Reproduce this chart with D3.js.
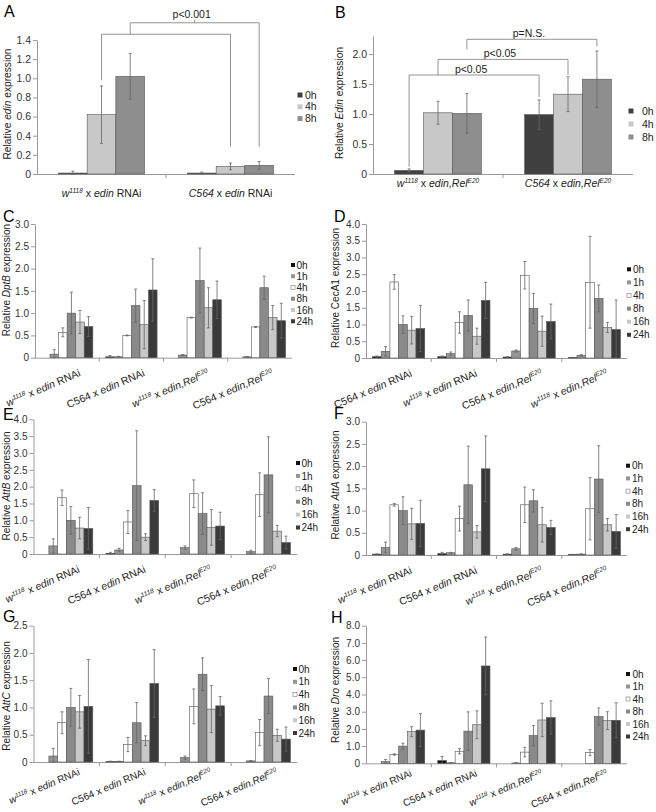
<!DOCTYPE html>
<html>
<head>
<meta charset="utf-8">
<script src="https://cdn.jsdelivr.net/npm/d3@7"></script>
<style>
  body { margin: 0; background: #fff; }
  text { white-space: pre; }
</style>
</head>
<body>
<script>
// categories
var catsA = ["*w*^1118^ x *edin* RNAi", "*C564* x *edin* RNAi"];
var catsB = ["*w*^1118^ x *edin,Rel*^E20^", "*C564* x *edin,Rel*^E20^"];
var cats4 = ["*w*^1118^ x *edin* RNAi", "C564 x *edin* RNAi", "*w*^1118^ x *edin,Rel*^E20^", "C564 x *edin,Rel*^E20^"];
var catsD = ["C564 x *edin* RNAi", "*w*^1118^ x *edin* RNAi", "C564 x *edin,Rel*^E20^", "*w*^1118^ x *edin,Rel*^E20^"];

// series
var hoursAB = ["0h", "4h", "8h"];
var colorsAB = ["#404040", "#c8c8c8", "#8e8e8e"];
var hours6 = ["0h", "1h", "4h", "8h", "16h", "24h"];
var colors6 = ["#111111", "#959595", "#ffffff", "#8a8a8a", "#c8c8c8", "#3a3a3a"];

// A: edin
var edinMean = [[0.01, 0.62, 1.02], [0.01, 0.08, 0.09]];
var edinErr  = [[0.02, 0.30, 0.24], [0.01, 0.035, 0.04]];
// B: Edin
var EdinMean = [[0.06, 1.02, 1.01], [0.99, 1.33, 1.58]];
var EdinErr  = [[0.025, 0.19, 0.33], [0.245, 0.29, 0.47]];

// C: DptB
var dptbMean = [[0, 0.08, 0.57, 1.00, 0.80, 0.70], [0.02, 0.02, 0.50, 1.17, 0.74, 1.52], [0, 0.06, 0.90, 1.73, 1.12, 1.30], [0, 0.02, 0.69, 1.57, 0.90, 0.83]];
var dptbErr  = [[0, 0.10, 0.10, 0.47, 0.26, 0.22], [0.03, 0.01, 0.01, 0.37, 0.54, 0.70], [0, 0.01, 0.01, 0.73, 0.45, 0.42], [0, 0.005, 0.01, 0.26, 0.27, 0.39]];
// D: CecA1
var cecMean = [[0.04, 0.20, 2.27, 1.00, 0.83, 0.88], [0.04, 0.13, 1.06, 1.27, 0.65, 1.72], [0.03, 0.21, 2.47, 1.48, 0.80, 1.09], [0.01, 0.08, 2.26, 1.78, 0.91, 0.85]];
var cecErr  = [[0.02, 0.14, 0.22, 0.26, 0.41, 0.69], [0.02, 0.05, 0.32, 0.46, 0.24, 0.54], [0.005, 0.03, 0.41, 0.45, 0.45, 0.52], [0.01, 0.02, 1.37, 0.40, 0.15, 0.88]];
// E: AttB
var attbMean = [[0, 0.24, 1.67, 1.00, 0.77, 0.76], [0.02, 0.12, 0.95, 2.03, 0.50, 1.59], [0, 0.19, 1.79, 1.20, 0.79, 0.83], [0, 0.07, 1.76, 2.35, 0.68, 0.34]];
var attbErr  = [[0, 0.21, 0.23, 0.41, 0.32, 0.62], [0.03, 0.05, 0.34, 1.63, 0.10, 0.32], [0, 0.05, 0.41, 0.62, 0.53, 0.41], [0, 0.04, 0.65, 1.13, 0.17, 0.19]];
// F: AttA
var attaMean = [[0.02, 0.17, 1.13, 1.00, 0.70, 0.71], [0.03, 0.05, 0.82, 1.58, 0.52, 1.94], [0.02, 0.14, 1.13, 1.22, 0.68, 0.62], [0.01, 0.02, 1.04, 1.71, 0.68, 0.53]];
var attaErr  = [[0.005, 0.12, 0.03, 0.31, 0.35, 0.52], [0.03, 0.01, 0.28, 0.87, 0.14, 0.74], [0.005, 0.03, 0.40, 0.25, 0.39, 0.16], [0.005, 0.005, 0.70, 0.75, 0.14, 0.38]];
// G: AttC
var attcMean = [[0, 0.11, 0.72, 1.00, 0.92, 1.02], [0.01, 0.01, 0.32, 0.72, 0.39, 1.44], [0, 0.08, 1.02, 1.61, 0.97, 1.03], [0, 0.02, 0.54, 1.21, 0.49, 0.42]];
var attcErr  = [[0, 0.14, 0.20, 0.35, 0.30, 0.86], [0.005, 0.005, 0.13, 0.37, 0.09, 0.62], [0, 0.03, 0.32, 0.30, 0.43, 0.17], [0, 0.005, 0.24, 0.32, 0.11, 0.22]];
// H: Dro
var droMean = [[0, 0.10, 0.51, 1.00, 1.84, 1.93], [0.16, 0.03, 0.70, 1.87, 2.24, 5.66], [0, 0.02, 0.65, 1.61, 2.52, 2.66], [0, 0, 0.62, 2.72, 2.48, 2.50]];
var droErr  = [[0, 0.12, 0.04, 0.17, 0.29, 0.96], [0.24, 0.01, 0.15, 1.12, 0.81, 1.68], [0, 0.01, 0.28, 0.58, 0.97, 0.97], [0, 0, 0.18, 0.50, 0.52, 1.02]];

// significance brackets (series index pairs, levels in data units)
var bracketsA = [
  {from: [0, 1], to: [1, 1], level: 1.46, dropFrom: 0.98, dropTo: 0.285},
  {from: [0, 2], to: [1, 2], level: 1.58, dropFrom: 1.46, dropTo: 0.285, label: "p<0.001", tick: true}
];
var bracketsB = [
  {from: [0, 0], to: [1, 0], level: 1.65, dropFrom: 0.12, dropTo: 1.28, label: "p<0.05"},
  {from: [0, 1], to: [1, 1], level: 1.91, dropFrom: 1.65, dropTo: 1.65, label: "p<0.05"},
  {from: [0, 2], to: [1, 2], level: 2.245, dropFrom: 2.08, dropTo: 2.13, label: "p=N.S."}
];

var FONT = "'Liberation Sans', Arial, sans-serif";
var AX = "#9a9a9a";

var svg = d3.select("body").append("svg")
  .attr("width", 656)
  .attr("height", 812)
  .attr("font-family", FONT);

// *italic* and ^superscript^ markup into tspans
function rich(t, s, fs) {
  var parts = s.split(/(\*[^*]+\*|\^[^^]+\^)/).filter(function (d) { return d.length; });
  var up = 0;
  parts.forEach(function (part) {
    var ts = t.append("tspan");
    if (part[0] === "^") {
      ts.text(part.slice(1, -1)).attr("font-size", fs * 0.62).attr("font-style", "italic").attr("dy", -fs * 0.38);
      up = fs * 0.38;
    } else {
      if (up) { ts.attr("dy", up); up = 0; }
      if (part[0] === "*") ts.attr("font-style", "italic").text(part.slice(1, -1));
      else ts.text(part);
    }
  });
}

function panel(p) {
  var g = svg.append("g");
  var x0 = d3.scaleBand().domain(d3.range(p.cats.length)).range([p.left, p.right])
    .paddingInner(p.pad).paddingOuter(p.pad / 2);
  var x1 = d3.scaleBand().domain(d3.range(p.series.length)).range([0, x0.bandwidth()]);
  var y = d3.scaleLinear().domain([0, p.ymax]).range([p.bottom, p.top]);

  // y axis
  var ya = g.append("g")
    .attr("transform", "translate(" + p.left + ",0)")
    .call(d3.axisLeft(y)
      .tickValues(d3.range(0, p.tickMax + 1e-9, p.step))
      .tickSizeInner(4).tickSizeOuter(0).tickPadding(2)
      .tickFormat(function (v) { return v === 0 ? "0" : d3.format(".1f")(v); }));
  ya.attr("font-family", FONT).attr("font-size", p.tickFs);
  ya.select(".domain").attr("stroke", AX);
  ya.selectAll(".tick line").attr("stroke", AX);
  ya.selectAll(".tick text").attr("fill", "#333");

  // x axis
  g.append("line").attr("x1", p.left).attr("x2", p.right)
    .attr("y1", p.bottom + 0.5).attr("y2", p.bottom + 0.5).attr("stroke", AX);
  d3.range(1, p.cats.length).forEach(function (i) {
    var xb = x0(i) - x0.step() * p.pad / 2;
    g.append("line").attr("x1", xb).attr("x2", xb)
      .attr("y1", p.bottom).attr("y2", p.bottom + 4).attr("stroke", AX);
  });

  // bars
  p.cats.forEach(function (c, i) {
    var gg = g.append("g").attr("transform", "translate(" + x0(i) + ",0)");
    p.series.forEach(function (s, j) {
      var v = p.mean[i][j];
      gg.append("rect")
        .attr("x", x1(j)).attr("width", x1.bandwidth())
        .attr("y", y(v)).attr("height", p.bottom - y(v))
        .attr("fill", p.colors[j]).attr("stroke", "#555").attr("stroke-width", 0.6);
    });
    p.series.forEach(function (s, j) {
      var v = p.mean[i][j], e = p.err[i][j];
      if (!e) return;
      var cx = x1(j) + x1.bandwidth() / 2;
      var y1 = y(Math.max(0, v - e)), y2 = y(v + e);
      gg.append("line").attr("x1", cx).attr("x2", cx).attr("y1", y1).attr("y2", y2)
        .attr("stroke", "#666").attr("stroke-width", 0.8);
      [y1, y2].forEach(function (yy) {
        gg.append("line").attr("x1", cx - 1.5).attr("x2", cx + 1.5).attr("y1", yy).attr("y2", yy)
          .attr("stroke", "#666").attr("stroke-width", 0.8);
      });
    });
  });

  // x labels
  p.cats.forEach(function (c, i) {
    var cx = x0(i) + x0.bandwidth() / 2;
    var t = g.append("text").attr("font-size", p.xFs).attr("fill", "#222");
    if (p.rotate) {
      t.attr("text-anchor", "end")
        .attr("transform", "translate(" + (cx + p.xlabDx) + "," + (p.bottom + p.xlabDy) + ") rotate(" + p.rotate + ")");
    } else {
      t.attr("text-anchor", "middle").attr("x", cx).attr("y", p.bottom + p.xlabDy);
    }
    rich(t, c, p.xFs);
  });

  // legend
  p.series.forEach(function (s, j) {
    var ly = p.legY + j * p.legDy;
    g.append("rect").attr("x", p.legX).attr("y", ly - p.legS / 2)
      .attr("width", p.legS).attr("height", p.legS)
      .attr("fill", p.colors[j]).attr("stroke", p.colors[j] === "#ffffff" ? "#777" : "none").attr("stroke-width", 0.6);
    g.append("text").attr("x", p.legTx).attr("y", ly + 3.6)
      .attr("font-size", p.legFs).attr("fill", "#222").text(s);
  });

  // y label
  var yl = g.append("text").attr("font-size", p.yFs).attr("fill", "#222")
    .attr("text-anchor", "middle")
    .attr("transform", "translate(" + p.ylabX + "," + p.ylabY + ") rotate(-90)");
  rich(yl, p.ylab, p.yFs);

  // panel letter
  g.append("text").attr("x", p.letX).attr("y", p.letY)
    .attr("font-size", 16).attr("fill", "#000").text(p.letter);

  // brackets
  (p.brackets || []).forEach(function (b) {
    var xa = x0(b.from[0]) + x1(b.from[1]) + x1.bandwidth() / 2;
    var xb = x0(b.to[0]) + x1(b.to[1]) + x1.bandwidth() / 2;
    var yl = y(b.level);
    g.append("path")
      .attr("d", "M" + xa + "," + y(b.dropFrom) + "V" + yl + "H" + xb + "V" + y(b.dropTo))
      .attr("fill", "none").attr("stroke", "#888").attr("stroke-width", 0.9);
    if (b.tick) {
      g.append("line").attr("x1", (xa + xb) / 2).attr("x2", (xa + xb) / 2)
        .attr("y1", yl).attr("y2", yl - 3).attr("stroke", "#888").attr("stroke-width", 0.9);
    }
    if (b.label) {
      g.append("text").attr("x", (xa + xb) / 2 - 3).attr("y", yl - p.brDy)
        .attr("text-anchor", "middle").attr("font-size", 10.5).attr("fill", "#222").text(b.label);
    }
  });
}

var base6 = {series: hours6, colors: colors6, pad: 0.2, tickFs: 10, xFs: 10.5, legFs: 10, yFs: 10,
  legS: 4, rotate: -23, xlabDx: 14, xlabDy: 18, step: 0.5};
var baseAB = {series: hoursAB, colors: colorsAB, pad: 0.333, tickFs: 10.5, xFs: 10.5, legFs: 10.5, yFs: 10.2,
  legS: 5, rotate: 0};

panel(Object.assign({}, baseAB, {cats: catsA, mean: edinMean, err: edinErr,
  left: 37, right: 295, bottom: 174, top: 40, ymax: 1.4, tickMax: 1.4, step: 0.2,
  xlabDy: 22.5, legX: 297.5, legY: 95, legDy: 11.8, legTx: 305,
  ylab: "Relative *edin* expression", ylabX: 11, ylabY: 104,
  letter: "A", letX: 4, letY: 17, brackets: bracketsA, brDy: 5}));

panel(Object.assign({}, baseAB, {cats: catsB, mean: EdinMean, err: EdinErr,
  left: 373, right: 633, bottom: 174, top: 36, ymax: 2.3, tickMax: 2.0, step: 0.5,
  xlabDy: 12.5, legX: 628.5, legY: 111, legDy: 13, legTx: 642,
  ylab: "Relative *Edin* expression", ylabX: 343, ylabY: 103,
  letter: "B", letX: 335, letY: 18, brackets: bracketsB, brDy: 2}));

panel(Object.assign({}, base6, {cats: cats4, mean: dptbMean, err: dptbErr,
  left: 35, right: 292, bottom: 357.7, top: 224, ymax: 3.0, tickMax: 3.0,
  legX: 291, legY: 265, legDy: 11.25, legTx: 296.5,
  ylab: "Relative *DptB* expression", ylabX: 10, ylabY: 280,
  letter: "C", letX: 3, letY: 222}));

panel(Object.assign({}, base6, {cats: catsD, mean: cecMean, err: cecErr,
  left: 366, right: 627, bottom: 358, top: 224, ymax: 4.0, tickMax: 4.0,
  legX: 627, legY: 269.3, legDy: 13.1, legTx: 633,
  ylab: "Relative CecA1 expression", ylabX: 339, ylabY: 288,
  letter: "D", letX: 334, letY: 222}));

panel(Object.assign({}, base6, {cats: cats4, mean: attbMean, err: attbErr,
  left: 33.5, right: 297, bottom: 554, top: 419.3, ymax: 4.0, tickMax: 4.0,
  legX: 296, legY: 463, legDy: 12.9, legTx: 301.5,
  ylab: "Relative *AttB* expression", ylabX: 10, ylabY: 486,
  letter: "E", letX: 3, letY: 420}));

panel(Object.assign({}, base6, {cats: cats4, mean: attaMean, err: attaErr,
  left: 366, right: 627, bottom: 555, top: 421.7, ymax: 3.0, tickMax: 3.0,
  legX: 626, legY: 465.7, legDy: 12.7, legTx: 632,
  ylab: "Relative *AttA* expression", ylabX: 339, ylabY: 485,
  letter: "F", letX: 334, letY: 419}));

panel(Object.assign({}, base6, {cats: cats4, mean: attcMean, err: attcErr,
  left: 33.5, right: 297, bottom: 762, top: 625.7, ymax: 2.5, tickMax: 2.5,
  xFs: 10, xlabDy: 12.5,
  legX: 293, legY: 669, legDy: 12.8, legTx: 298.5,
  ylab: "Relative *AttC* expression", ylabX: 10, ylabY: 696,
  letter: "G", letX: 3, letY: 622}));

panel(Object.assign({}, base6, {cats: cats4, mean: droMean, err: droErr,
  left: 366, right: 627, bottom: 763.3, top: 625.7, ymax: 8.0, tickMax: 8.0, step: 1,
  xFs: 10, xlabDy: 12.5,
  legX: 626, legY: 674, legDy: 12.5, legTx: 632.5,
  ylab: "Relative *Dro* expression", ylabX: 339, ylabY: 690,
  letter: "H", letX: 331, letY: 623}));
</script>
</body>
</html>
